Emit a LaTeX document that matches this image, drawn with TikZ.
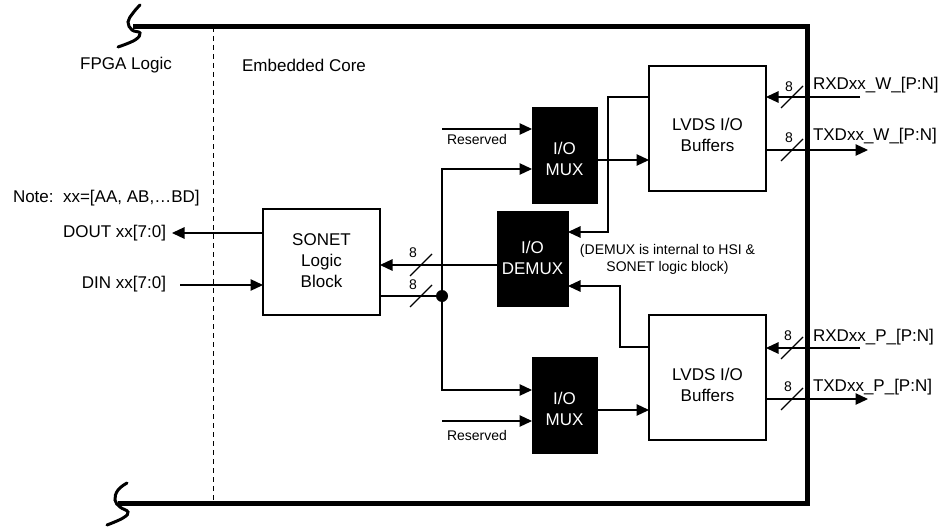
\documentclass[tikz,border=0pt]{standalone}
\usepackage{fontspec}
\setmainfont{Liberation Sans}
\usetikzlibrary{arrows.meta}
\begin{document}
\begin{tikzpicture}[x=1pt,y=-1pt,
  every node/.style={inner sep=0pt, outer sep=0pt},
  mainfont/.style={font=\fontsize{17}{20.5}\selectfont},
  smallfont/.style={font=\fontsize{14}{17}\selectfont},
  wire/.style={line width=1.2pt},
  arr/.style={wire, -{Triangle[length=12.5pt,width=11.5pt]}},
  whitebox/.style={draw, line width=1.2pt, fill=white},
  blackbox/.style={fill=black, draw=black},
  frameline/.style={line width=5pt},
  wavy/.style={line width=3pt, line cap=round},
  slash/.style={wire},
]
\useasboundingbox (0,0) rectangle (943,527);

% frame
\draw[line width=1pt, dash pattern=on 5pt off 4pt] (213,27) -- (213,503);
\draw[wavy] plot[smooth, tension=0.7] coordinates {(140,5) (133,13) (128,22) (132,30) (140,33) (135,40) (118,47)};
\draw[wavy] plot[smooth, tension=0.7] coordinates {(127,483) (118,490) (115,500) (120,507) (128,512) (123,518) (107,525)};

% titles
\node[mainfont] (fpga) at (126,65) {FPGA Logic};
\node[mainfont] (core) at (304,65) {Embedded Core};
\node[mainfont, anchor=west] (note) at (13,198) {Note:\ \ xx=[AA, AB,…BD]};
\node[mainfont, anchor=east] (dout) at (166,233) {DOUT xx[7:0]};
\node[mainfont, anchor=east] (din) at (166,284) {DIN xx[7:0]};

% boxes
\node[whitebox, minimum width=117pt, minimum height=106pt] (sonet) at (321.5,262) {};
\node[mainfont, align=center, font=\fontsize{17}{21}\selectfont] (sonett) at (321.5,261) {SONET\\Logic\\Block};
\node[blackbox, minimum width=65pt, minimum height=96pt] (mux1) at (564.5,155) {};
\node[mainfont, align=center, text=white] (mux1t) at (564.5,159) {I/O\\MUX};
\node[blackbox, minimum width=71pt, minimum height=95pt] (demux) at (532.5,258.5) {};
\node[mainfont, align=center, text=white] (demuxt) at (532.5,258) {I/O\\DEMUX};
\node[blackbox, minimum width=65pt, minimum height=96pt] (mux2) at (564.5,405) {};
\node[mainfont, align=center, text=white] (mux2t) at (564.5,409) {I/O\\MUX};
\node[whitebox, minimum width=117pt, minimum height=125pt] (lvds1) at (707.5,128.5) {};
\node[mainfont, align=center] (lvds1t) at (707.5,135) {LVDS I/O\\Buffers};
\node[whitebox, minimum width=117pt, minimum height=125pt] (lvds2) at (707.5,377.5) {};
\node[mainfont, align=center] (lvds2t) at (707.5,385) {LVDS I/O\\Buffers};
\node[circle, fill=black, minimum size=12pt] (dot) at (442,296) {};

\node[smallfont, align=center] (note2) at (667.5,259) {(DEMUX is internal to HSI \&\\SONET logic block)};
\node[smallfont] (res1t) at (477,139) {Reserved};
\node[smallfont] (res2t) at (477,435) {Reserved};

% left connectors
\coordinate (doutend) at (172,233);
\coordinate (dinstart) at (180,285);
\draw[arr] (sonet.west |- doutend) -- (doutend);
\draw[arr] (dinstart) -- (sonet.west |- dinstart);
\coordinate (sin) at (0,265);
\draw[arr] (demux.west |- sin) -- (sonet.east |- sin);
\draw[wire] (sonet.east |- dot) -- (dot);
\coordinate (m1in) at (0,169);
\coordinate (m2in) at (0,390);
\draw[arr] (dot.center) -- (dot.center |- m1in) -- (mux1.west |- m1in);
\draw[arr] (dot.center) -- (dot.center |- m2in) -- (mux2.west |- m2in);
\coordinate (res1) at (442,129);
\coordinate (res2) at (442,421);
\draw[arr] (res1) -- (mux1.west |- res1);
\draw[arr] (res2) -- (mux2.west |- res2);

% mux outputs
\coordinate (m1out) at (0,160);
\coordinate (m2out) at (0,410);
\draw[arr] (mux1.east |- m1out) -- (lvds1.west |- m1out);
\draw[arr] (mux2.east |- m2out) -- (lvds2.west |- m2out);

% feedback to demux
\coordinate (fb1) at (608,97);
\coordinate (fb1e) at (0,232);
\draw[arr] (lvds1.west |- fb1) -- (fb1) -- (fb1 |- fb1e) -- (demux.east |- fb1e);
\coordinate (fb2) at (620,347);
\coordinate (fb2e) at (0,286);
\draw[arr] (lvds2.west |- fb2) -- (fb2) -- (fb2 |- fb2e) -- (demux.east |- fb2e);

% right side
\coordinate (rxw) at (860,97);
\coordinate (txw) at (868,150);
\coordinate (rxp) at (860,348);
\coordinate (txp) at (868,399);
\draw[arr] (rxw) -- (lvds1.east |- rxw);
\draw[arr] (lvds1.east |- txw) -- (txw);
\draw[arr] (rxp) -- (lvds2.east |- rxp);
\draw[arr] (lvds2.east |- txp) -- (txp);
\node[mainfont, anchor=base west] (rxwt) at (813,89) {RXDxx\_W\_[P:N]};
\node[mainfont, anchor=base west] (txwt) at (813,140) {TXDxx\_W\_[P:N]};
\node[mainfont, anchor=base west] (rxpt) at (813,341) {RXDxx\_P\_[P:N]};
\node[mainfont, anchor=base west] (txpt) at (813,391) {TXDxx\_P\_[P:N]};

% bus slashes and widths
\foreach \x/\y in {421/265, 421/296, 792/97, 792/150, 792/348, 792/399} {
  \draw[slash] (\x-11,\y+11) -- (\x+11,\y-11);
}
\node[smallfont] (w1) at (413,253) {8};
\node[smallfont] (w2) at (413,285) {8};
\node[smallfont] (w3) at (789,87) {8};
\node[smallfont] (w4) at (789,138) {8};
\node[smallfont] (w5) at (788,336) {8};
\node[smallfont] (w6) at (788,387) {8};

\draw[frameline] (133,27) -- (807,27) -- (807,503) -- (118,503);
\end{tikzpicture}
\end{document}
